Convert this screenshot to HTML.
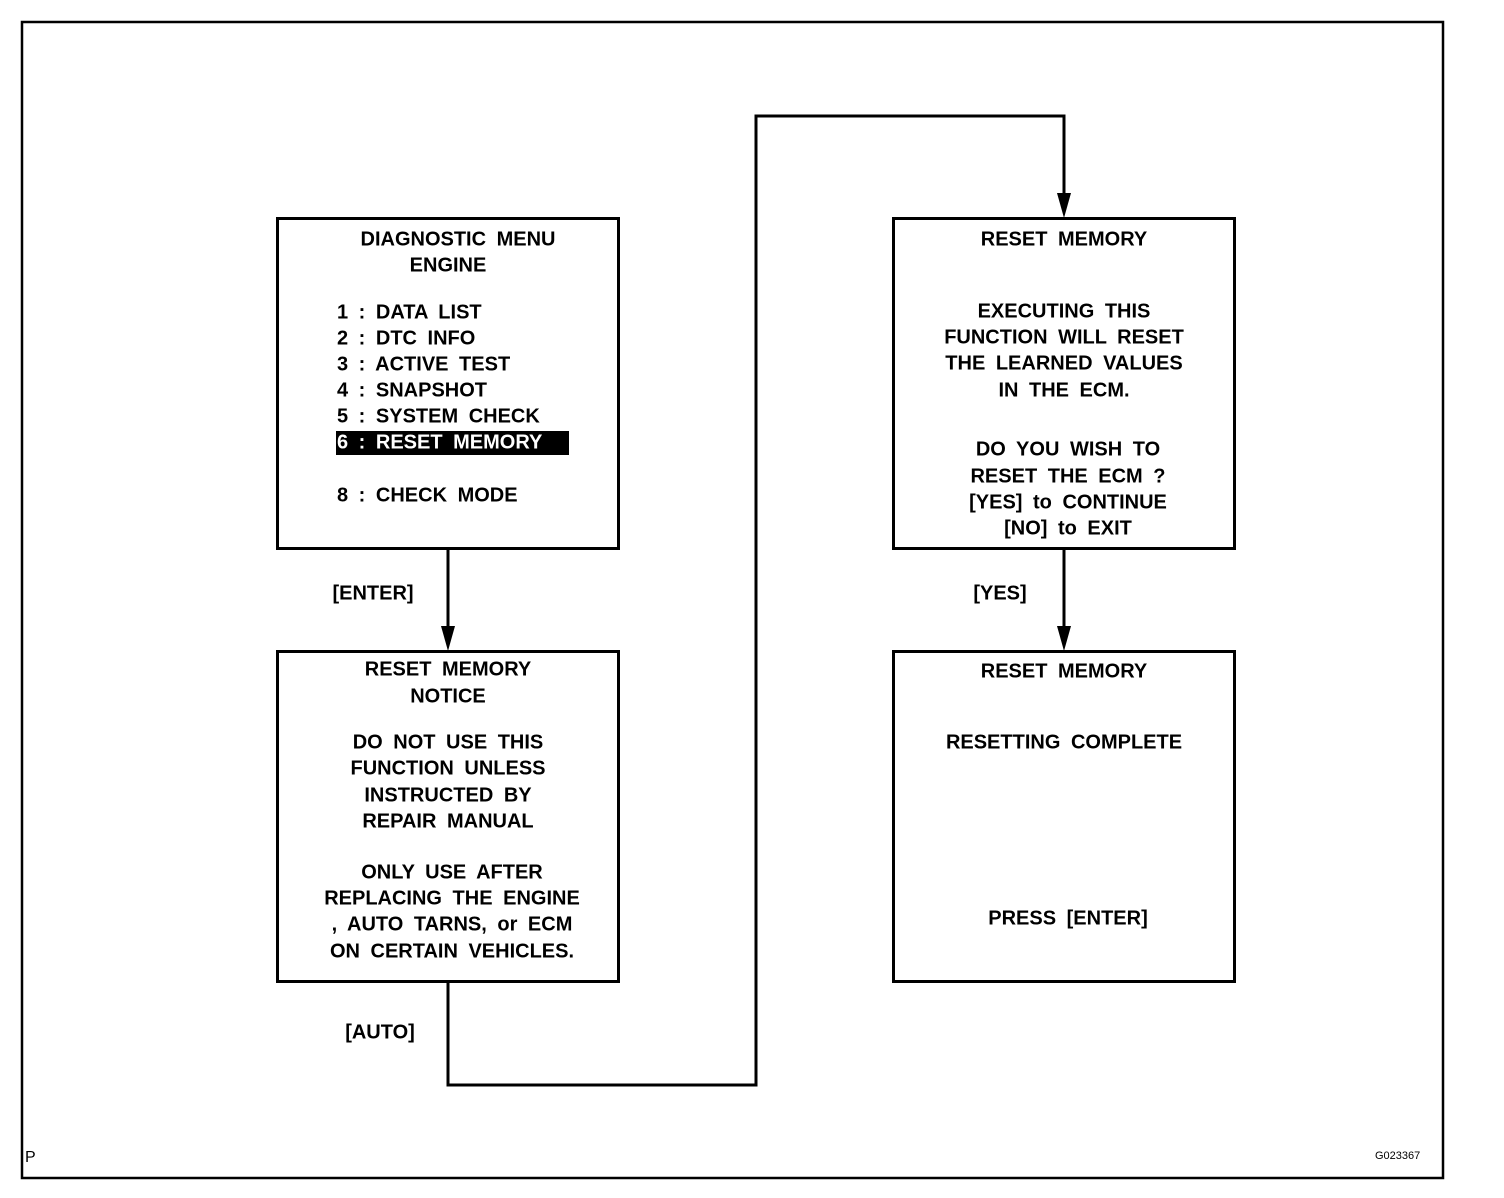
<!DOCTYPE html>
<html><head><meta charset="utf-8"><style>
html,body{margin:0;padding:0;background:#fff;}
svg{display:block;}
text{font-family:"Liberation Sans",Arial,sans-serif;font-weight:bold;font-size:20px;fill:#000;dominant-baseline:middle;word-spacing:5px;}
.c{text-anchor:middle;}
</style></head><body>
<svg width="1504" height="1198" viewBox="0 0 1504 1198" xmlns="http://www.w3.org/2000/svg">
<rect x="22" y="22" width="1421" height="1156" fill="none" stroke="#000" stroke-width="2.5"/>
<g fill="none" stroke="#000" stroke-width="3">
<rect x="277.5" y="218.5" width="341" height="330"/>
<rect x="277.5" y="651.5" width="341" height="330"/>
<rect x="893.5" y="218.5" width="341" height="330"/>
<rect x="893.5" y="651.5" width="341" height="330"/>
<polyline points="448,548 448,636"/>
<polyline points="448,981 448,1085 756,1085 756,116 1064,116 1064,203"/>
<polyline points="1064,548 1064,636"/>
</g>
<g fill="#000">
<polygon points="441,626 455,626 448,651"/>
<polygon points="1057,193 1071,193 1064,218"/>
<polygon points="1057,626 1071,626 1064,651"/>
<rect x="336" y="431" width="233" height="24"/>
</g>
<text class="c" x="458" y="240">DIAGNOSTIC MENU</text>
<text class="c" x="448" y="266">ENGINE</text>
<text x="337" y="313">1 :  DATA LIST</text>
<text x="337" y="339">2 :  DTC INFO</text>
<text x="337" y="365">3 :  ACTIVE TEST</text>
<text x="337" y="391">4 :  SNAPSHOT</text>
<text x="337" y="417">5 :  SYSTEM CHECK</text>
<text x="337" y="443" style="fill:#fff">6 :  RESET MEMORY</text>
<text x="337" y="496">8 :  CHECK MODE</text>

<text class="c" x="448" y="670">RESET MEMORY</text>
<text class="c" x="448" y="697">NOTICE</text>
<text class="c" x="448" y="743">DO NOT USE THIS</text>
<text class="c" x="448" y="769">FUNCTION UNLESS</text>
<text class="c" x="448" y="796">INSTRUCTED BY</text>
<text class="c" x="448" y="822">REPAIR MANUAL</text>
<text class="c" x="452" y="873">ONLY USE AFTER</text>
<text class="c" x="452" y="899">REPLACING THE ENGINE</text>
<text class="c" x="452" y="925">, AUTO TARNS, or ECM</text>
<text class="c" x="452" y="952">ON CERTAIN VEHICLES.</text>

<text class="c" x="1064" y="240">RESET MEMORY</text>
<text class="c" x="1064" y="312">EXECUTING THIS</text>
<text class="c" x="1064" y="338">FUNCTION WILL RESET</text>
<text class="c" x="1064" y="364">THE LEARNED VALUES</text>
<text class="c" x="1064" y="391">IN THE ECM.</text>
<text class="c" x="1068" y="450">DO YOU WISH TO</text>
<text class="c" x="1068" y="477">RESET THE ECM ?</text>
<text class="c" x="1068" y="503">[YES] to CONTINUE</text>
<text class="c" x="1068" y="529">[NO] to EXIT</text>

<text class="c" x="1064" y="672">RESET MEMORY</text>
<text class="c" x="1064" y="743">RESETTING COMPLETE</text>
<text class="c" x="1068" y="919">PRESS [ENTER]</text>

<text class="c" x="373" y="594">[ENTER]</text>
<text class="c" x="1000" y="594">[YES]</text>
<text class="c" x="380" y="1033">[AUTO]</text>
<text x="25" y="1158" style="font-weight:normal;font-size:16px">P</text>
<text x="1375" y="1156" style="font-weight:normal;font-size:11px">G023367</text>
</svg>
</body></html>
